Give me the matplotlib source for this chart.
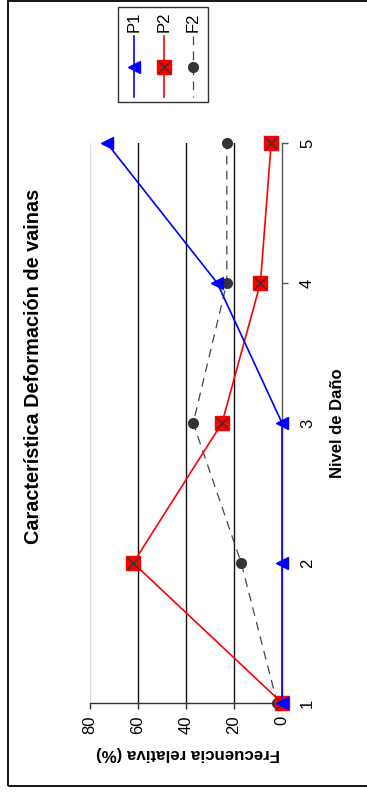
import matplotlib
matplotlib.use("Agg")
import matplotlib.pyplot as plt
from matplotlib.lines import Line2D
from matplotlib.patches import Rectangle

plt.rcParams['font.family'] = ['Liberation Sans', 'DejaVu Sans']

# Data
niveles = [1, 2, 3, 4, 5]
nivel_labels = ["1", "2", "3", "4", "5"]
P1 = [0, 0, 0, 27, 73]
P2 = [0, 62, 25, 9, 4.5]
F2 = [2, 17, 37, 23, 23]
freq_ticks = [0, 20, 40, 60, 80]
freq_labels = ["0", "20", "40", "60", "80"]
series_names = ["P1", "P2", "F2"]

W, H = 367, 795
fig = plt.figure(figsize=(W / 100, H / 100), dpi=100)

def fx(px):
    return px / W

def fy(py):
    return 1 - py / H

# axes: horizontal = frequency (80 left, 0 right), vertical = level (1 bottom, 5 top)
ax = fig.add_axes([fx(90), fy(703), fx(282) - fx(90), fy(143) - fy(703)])
ax.set_xlim(80, 0)
ax.set_ylim(1, 5)
ax.patch.set_visible(False)

for s in ['top', 'left']:
    ax.spines[s].set_visible(False)
ax.spines['bottom'].set_color('#333333')
ax.spines['right'].set_color('#555555')
ax.spines['bottom'].set_linewidth(1.0)
ax.spines['right'].set_linewidth(1.0)

# grid lines
for g in [20, 40, 60]:
    ax.axvline(g, color='#111111', lw=1.0, zorder=1)
ax.axvline(80, color='#dddddd', lw=1.0, zorder=1)

ax.set_xticks(freq_ticks)
ax.set_xticklabels(freq_labels, rotation=90, fontsize=12)
ax.tick_params(axis='x', direction='out', length=4, width=1, pad=5, color='#333333')

ax.yaxis.tick_right()
ax.set_yticks(niveles)
ax.set_yticklabels(nivel_labels, rotation=90, fontsize=12, va='center')
ax.tick_params(axis='y', direction='out', length=4, width=1, pad=9, color='#555555')

# series
ax.plot(F2, niveles, color='#444444', lw=0.9, ls=(0, (7, 5)), marker='o', ms=7,
        mfc='#333333', mec='#333333', clip_on=False, zorder=3)
ax.plot(P2, niveles, color='red', lw=1.2, marker='s', ms=10, mfc='red', mec='red',
        clip_on=False, zorder=4)
ax.plot(P2, niveles, ls='none', marker='x', ms=8, mec='#333333', mew=1.0,
        clip_on=False, zorder=5)
ax.plot(P1, niveles, color='blue', lw=1.2, marker='<', ms=8, mfc='blue', mec='blue',
        clip_on=False, zorder=6)

# title and axis labels
fig.text(fx(34), fy(366), "Característica Deformación de vainas", rotation=90,
         fontsize=14.3, fontweight='bold', ha='center', va='center')
fig.text(fx(338), fy(423), "Nivel de Daño", rotation=90,
         fontsize=12, fontweight='bold', ha='center', va='center')
fig.text(fx(188), fy(753), "Frecuencia relativa (%)", rotation=180,
         fontsize=12.2, fontweight='bold', ha='center', va='center')

# legend (rotated layout)
fig.add_artist(Rectangle((fx(118), fy(102)), fx(208) - fx(118), fy(7) - fy(102),
                         transform=fig.transFigure, fill=False, ec='#333333', lw=1.0))
leg_x = [134, 164, 193]
styles = [
    dict(color='blue', lw=1.2, ls='-'),
    dict(color='red', lw=1.2, ls='-'),
    dict(color='#444444', lw=0.9, ls=(0, (7, 5))),
]
for name, xpx, st in zip(series_names, leg_x, styles):
    fig.add_artist(Line2D([fx(xpx), fx(xpx)], [fy(36), fy(97)], transform=fig.transFigure, **st))
    fig.text(fx(xpx), fy(22), name, rotation=90, fontsize=12, ha='center', va='center')
fig.add_artist(Line2D([fx(134)], [fy(67)], transform=fig.transFigure, ls='none',
                      marker='<', ms=8, mfc='blue', mec='blue'))
fig.add_artist(Line2D([fx(164)], [fy(67)], transform=fig.transFigure, ls='none',
                      marker='s', ms=10, mfc='red', mec='red'))
fig.add_artist(Line2D([fx(164)], [fy(67)], transform=fig.transFigure, ls='none',
                      marker='x', ms=8, mec='#333333', mew=1.0))
fig.add_artist(Line2D([fx(193)], [fy(67)], transform=fig.transFigure, ls='none',
                      marker='o', ms=7, mfc='#333333', mec='#333333'))

# outer frame
fig.add_artist(Rectangle((fx(8), fy(786)), 1.2, fy(1) - fy(786),
                         transform=fig.transFigure, fill=False, ec='black', lw=1.3,
                         clip_on=False))

fig.savefig("out.png", dpi=100)
